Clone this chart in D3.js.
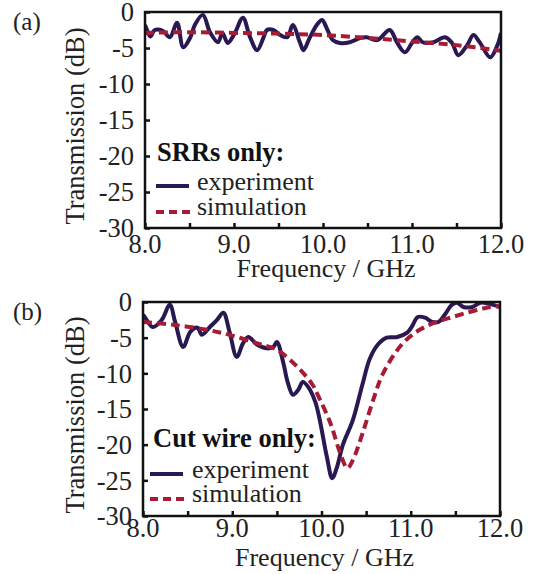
<!DOCTYPE html>
<html><head><meta charset="utf-8">
<script src="https://cdn.jsdelivr.net/npm/d3@7"></script>
<style>body{margin:0;background:#fff} svg{display:block}</style>
</head><body>
<svg id="c" width="535" height="574"></svg>
<script>
// ---- data ----
const yTickValues = [0, -5, -10, -15, -20, -25, -30];
const xLabelValues = [8, 9, 10, 11, 12];
const xTickValues = [8, 8.5, 9, 9.5, 10, 10.5, 11, 11.5, 12];
const seriesNames = ["experiment", "simulation"];

// (a) SRRs only
const aExpFreq = [8.00,8.02,8.06,8.11,8.20,8.28,8.36,8.43,8.51,8.56,8.65,8.73,8.82,8.87,8.93,9.01,9.10,9.18,9.26,9.33,9.37,9.44,9.52,9.60,9.66,9.74,9.78,9.85,9.93,9.99,10.04,10.11,10.19,10.30,10.42,10.49,10.61,10.75,10.83,10.92,11.00,11.06,11.12,11.24,11.37,11.45,11.52,11.62,11.69,11.76,11.88,11.96,12.00];
const aExpVal  = [-1.8,-2.4,-3.4,-2.5,-2.6,-3.5,-1.5,-4.9,-3.5,-1.8,-0.4,-2.8,-4.2,-2.9,-4.3,-2.9,-0.8,-3.5,-5.3,-3.6,-2.5,-2.5,-3.2,-3.5,-1.8,-4.2,-5.3,-3.6,-1.8,-1.1,-2.2,-3.9,-4.3,-4.2,-3.6,-3.5,-3.9,-2.5,-4.2,-5.6,-4.3,-3.5,-4.2,-4.2,-3.5,-4.3,-6.0,-4.6,-3.2,-4.2,-6.3,-4.6,-2.9];
const aSimFreq = [8.0, 8.5, 9.0, 9.5, 10.0, 10.5, 11.0, 11.5, 12.0];
const aSimVal  = [-2.9, -2.8, -2.9, -3.0, -3.2, -3.6, -4.1, -4.6, -5.4];

// (b) Cut wire only
const bExpFreq = [8.00,8.02,8.11,8.21,8.30,8.36,8.45,8.53,8.61,8.66,8.75,8.83,8.90,8.97,9.05,9.12,9.18,9.28,9.39,9.46,9.50,9.57,9.62,9.68,9.74,9.79,9.85,9.93,9.98,10.06,10.12,10.17,10.24,10.35,10.46,10.54,10.63,10.73,10.85,10.96,11.01,11.08,11.16,11.24,11.31,11.38,11.46,11.52,11.59,11.69,11.78,11.89,12.00];
const bExpVal  = [-1.8,-2.1,-3.5,-2.5,-0.4,-2.8,-6.3,-4.2,-3.6,-4.6,-3.5,-2.5,-1.5,-4.2,-7.7,-5.8,-4.9,-6.0,-6.5,-6.3,-5.6,-8.4,-11.2,-13.0,-12.3,-11.2,-11.9,-14.0,-16.5,-21.7,-24.7,-23.3,-20.0,-16.6,-11.5,-8.0,-6.0,-5.0,-4.9,-4.3,-3.5,-2.1,-2.2,-2.8,-2.8,-1.8,-0.4,-0.1,-0.7,-0.7,-0.1,-0.3,-0.7];
const bSimFreq = [8.00,8.34,8.72,8.97,9.28,9.50,9.73,9.90,9.95,10.10,10.21,10.29,10.35,10.46,10.58,10.69,10.91,11.10,11.29,11.47,11.66,11.85,12.00];
const bSimVal  = [-2.8,-3.2,-3.9,-4.6,-5.8,-6.7,-9.1,-11.6,-12.8,-17.0,-21.2,-23.3,-22.2,-18.4,-13.7,-10.0,-5.8,-3.9,-2.8,-2.1,-1.4,-0.8,-0.6];

const panels = [
  {label: "(a)", title: "SRRs only:", expF: aExpFreq, expV: aExpVal, simF: aSimFreq, simV: aSimVal,
   x0: 145, x1: 501, y0: 12, y1: 228, labelY: 30, yTitleY: 126, xLabDy: 25, xTitleDy: 49,
   legTitleX: 157, legTitleY: 161, legSwX: 156, legTextX: 197, legRow1: 190, legRow2: 215},
  {label: "(b)", title: "Cut wire only:", expF: bExpFreq, expV: bExpVal, simF: bSimFreq, simV: bSimVal,
   x0: 143, x1: 500, y0: 302, y1: 516, labelY: 320, yTitleY: 415, xLabDy: 21, xTitleDy: 50,
   legTitleX: 153, legTitleY: 447, legSwX: 150, legTextX: 192, legRow1: 478, legRow2: 502}
];

const expColor = "#2a1852";
const simColor = "#a81b35";
const font = "'Liberation Serif', 'Times New Roman', serif";
const textColor = "#222";

const svg = d3.select("#c");

panels.forEach(p => {
  const x = d3.scaleLinear().domain([8, 12]).range([p.x0, p.x1]);
  const y = d3.scaleLinear().domain([0, -30]).range([p.y0, p.y1]);
  const g = svg.append("g");

  const clipId = "clip" + p.label.replace(/\W/g, "");
  svg.append("clipPath").attr("id", clipId).append("rect")
    .attr("x", p.x0).attr("y", p.y0 - 1).attr("width", p.x1 - p.x0).attr("height", p.y1 - p.y0 + 1);

  // curves
  const lineGen = d3.line().x(d => x(d[0])).y(d => y(d[1])).curve(d3.curveCatmullRom.alpha(0.5));
  const expData = p.expF.map((f, i) => [f, p.expV[i]]);
  const simData = p.simF.map((f, i) => [f, p.simV[i]]);
  g.append("path").attr("d", lineGen(expData)).attr("fill", "none")
    .attr("stroke", expColor).attr("stroke-width", 4).attr("stroke-linejoin", "round")
    .attr("clip-path", `url(#${clipId})`);
  g.append("path").attr("d", lineGen(simData)).attr("fill", "none")
    .attr("stroke", simColor).attr("stroke-width", 4).attr("stroke-dasharray", "9,5")
    .attr("clip-path", `url(#${clipId})`);

  // frame
  g.append("rect").attr("x", p.x0).attr("y", p.y0).attr("width", p.x1 - p.x0).attr("height", p.y1 - p.y0)
    .attr("fill", "none").attr("stroke", "#111").attr("stroke-width", 2.5);

  // y axis ticks (inward)
  const yAxis = d3.axisLeft(y).tickValues(yTickValues).tickSize(-5).tickFormat(d => String(d));
  const ya = g.append("g").attr("transform", `translate(${p.x0},0)`).call(yAxis);
  ya.select(".domain").remove();
  ya.selectAll("line").attr("stroke", "#111").attr("stroke-width", 2.5);
  ya.selectAll("text").attr("font-family", font).attr("font-size", 26.5).attr("fill", textColor)
    .attr("x", -11).attr("dy", "0.33em");

  // x axis ticks (inward)
  const xAxis = d3.axisBottom(x).tickValues(xTickValues).tickSize(-5).tickFormat("");
  const xa = g.append("g").attr("transform", `translate(0,${p.y1})`).call(xAxis);
  xa.select(".domain").remove();
  xa.selectAll("line").attr("stroke", "#111").attr("stroke-width", 2.5);

  g.selectAll(".xlab").data(xLabelValues).enter().append("text")
    .attr("x", d => x(d)).attr("y", p.y1 + p.xLabDy)
    .attr("text-anchor", "middle").attr("font-family", font).attr("font-size", 26.5).attr("fill", textColor)
    .text(d => d3.format(".1f")(d));

  g.append("text").attr("x", (p.x0 + p.x1) / 2 + 3).attr("y", p.y1 + p.xTitleDy)
    .attr("text-anchor", "middle").attr("font-family", font).attr("font-size", 26).attr("fill", textColor)
    .text("Frequency / GHz");

  g.append("text").attr("transform", `translate(84,${p.yTitleY}) rotate(-90)`)
    .attr("text-anchor", "middle").attr("font-family", font).attr("font-size", 26.5).attr("fill", textColor)
    .text("Transmission (dB)");

  g.append("text").attr("x", 13).attr("y", p.labelY)
    .attr("font-family", font).attr("font-size", 25).attr("fill", textColor).text(p.label);

  // legend
  g.append("text").attr("x", p.legTitleX).attr("y", p.legTitleY)
    .attr("font-family", font).attr("font-size", 26.5).attr("font-weight", "bold").attr("fill", "#111")
    .text(p.title);
  g.append("line").attr("x1", p.legSwX).attr("x2", p.legSwX + 33)
    .attr("y1", p.legRow1 - 4).attr("y2", p.legRow1 - 4)
    .attr("stroke", expColor).attr("stroke-width", 4);
  g.append("line").attr("x1", p.legSwX).attr("x2", p.legSwX + 34)
    .attr("y1", p.legRow2 - 3).attr("y2", p.legRow2 - 3)
    .attr("stroke", simColor).attr("stroke-width", 4).attr("stroke-dasharray", "8,5");
  g.append("text").attr("x", p.legTextX).attr("y", p.legRow1)
    .attr("font-family", font).attr("font-size", 26).attr("fill", textColor).text(seriesNames[0]);
  g.append("text").attr("x", p.legTextX).attr("y", p.legRow2)
    .attr("font-family", font).attr("font-size", 26).attr("fill", textColor).text(seriesNames[1]);
});
</script>
</body></html>
